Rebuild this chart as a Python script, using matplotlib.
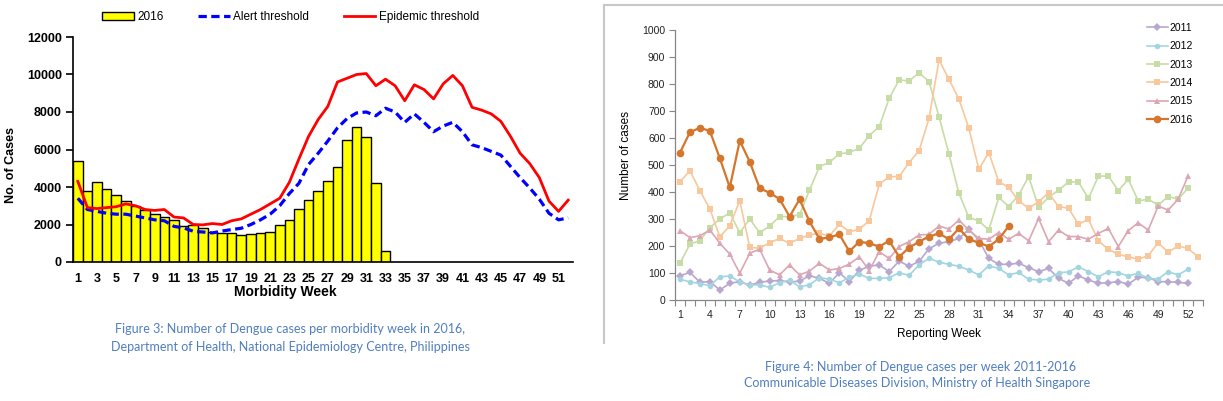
"""
Dengue weekly cases: Philippines 2016 vs thresholds, Singapore 2011-2016
"""

import numpy as np
import matplotlib
matplotlib.use('Agg')
import matplotlib.pyplot as plt
from matplotlib.lines import Line2D
from matplotlib.patches import Patch

# --- Philippines (figure 3) ---
ph_weeks = np.arange(1, 53)
ph_cases_2016 = [5400, 3800, 4250, 3900, 3550, 3250, 3000, 2750, 2550, 2400,
                 2250, 1900, 1950, 1800, 1600, 1550, 1550, 1450, 1500, 1550,
                 1600, 1950, 2250, 2850, 3300, 3800, 4300, 5050, 6500, 7200,
                 6650, 4200, 600]
ph_alert = [3400, 2800, 2700, 2600, 2550, 2550, 2450, 2350, 2250, 2200,
            1900, 1820, 1640, 1600, 1550, 1650, 1730, 1800, 2000, 2250,
            2550, 3000, 3650, 4200, 5200, 5800, 6450, 7150, 7650, 7950,
            8000, 7800, 8200, 8000, 7450, 7900, 7450, 6950, 7250, 7450,
            6950, 6250, 6100, 5900, 5700, 5100, 4500, 3950, 3350, 2600,
            2250, 2350]
ph_epidemic = [4300, 2900, 2850, 2900, 2950, 3100, 3000, 2800, 2750, 2800,
               2400, 2350, 2000, 1980, 2050, 2000, 2200, 2300, 2550, 2800,
               3100, 3400, 4250, 5500, 6700, 7600, 8300, 9600, 9800, 10000,
               10050, 9400, 9750, 9400, 8600, 9450, 9200, 8700, 9500, 9950,
               9400, 8250, 8100, 7900, 7500, 6700, 5800, 5250, 4500, 3250,
               2700, 3300]

# --- Singapore (figure 4) ---
sg_2011 = [90, 102, 66, 68, 37, 62, 68, 55, 66, 70, 72, 66, 70, 90, 80, 62,
           101, 68, 110, 125, 130, 105, 144, 125, 143, 190, 210, 216, 228, 262,
           222, 154, 132, 132, 136, 120, 105, 117, 80, 62, 89, 74, 62, 64, 68,
           59, 84, 83, 68, 68, 65, 62]
sg_2012 = [77, 67, 61, 53, 86, 89, 67, 56, 56, 47, 64, 74, 49, 56, 83, 77, 64,
           84, 96, 80, 80, 83, 101, 91, 130, 155, 140, 132, 125, 111, 93, 127,
           117, 93, 102, 77, 74, 77, 101, 104, 123, 105, 86, 105, 101, 89, 99,
           80, 78, 105, 93, 114]
sg_2013 = [136, 207, 220, 268, 300, 323, 249, 300, 249, 274, 309, 309, 315,
           407, 494, 510, 541, 547, 562, 609, 642, 747, 815, 811, 842, 809,
           679, 541, 395, 306, 293, 259, 380, 346, 389, 457, 343, 380, 407,
           437, 437, 376, 459, 459, 405, 447, 367, 373, 352, 383, 374, 414]
sg_2014 = [438, 479, 405, 337, 234, 275, 368, 195, 192, 212, 228, 210, 228,
           241, 247, 237, 281, 253, 262, 294, 428, 457, 457, 509, 553, 673,
           889, 817, 744, 636, 484, 546, 438, 417, 367, 340, 364, 397, 346,
           340, 280, 299, 219, 188, 169, 160, 151, 164, 212, 177, 200, 191, 160]
sg_2015 = [257, 231, 238, 259, 210, 170, 99, 173, 188, 111, 93, 130, 93, 107,
           136, 111, 117, 133, 160, 109, 179, 154, 198, 216, 241, 243, 274,
           263, 296, 259, 228, 225, 250, 225, 247, 219, 302, 216, 259, 235,
           235, 225, 247, 265, 198, 257, 286, 259, 348, 333, 373, 459]
sg_2016 = [546, 621, 638, 626, 525, 417, 590, 512, 414, 397, 374, 309, 373,
           291, 226, 232, 243, 180, 216, 210, 198, 219, 160, 194, 216, 235,
           247, 225, 265, 225, 212, 198, 225, 274]

sg_years = ['2011', '2012', '2013', '2014', '2015', '2016']
sg_series = [sg_2011, sg_2012, sg_2013, sg_2014, sg_2015, sg_2016]

W, H = 1223, 401
fig = plt.figure(figsize=(W / 100, H / 100), dpi=100)
plt.rcParams['font.family'] = ['Liberation Sans', 'DejaVu Sans']


def fx(px):
    return px / W


def fy(py):
    return 1 - py / H


# ================= left panel =================
ax1 = fig.add_axes([fx(73), fy(262), fx(500), 225 / H])
ax1.bar(np.arange(1, len(ph_cases_2016) + 1), ph_cases_2016, width=1.0,
        color='#FFFF00', edgecolor='black', linewidth=1.0, zorder=2)
ax1.plot(ph_weeks, ph_alert, color='#0000FF', lw=2.3, dashes=(2.6, 1.4), zorder=3)
ax1.plot(ph_weeks, ph_epidemic, color='#FF0000', lw=2.0, zorder=4)
ax1.set_xlim(0.5, 52.5)
ax1.set_ylim(0, 12000)
ax1.set_yticks(np.arange(0, 12001, 2000))
ax1.set_xticks(np.arange(1, 53, 2))
for s in ['top', 'right']:
    ax1.spines[s].set_visible(False)
ax1.spines['left'].set_linewidth(1.2)
ax1.spines['bottom'].set_linewidth(1.2)
ax1.tick_params(axis='y', length=5, width=1.2, labelsize=9, pad=3)
ax1.tick_params(axis='x', length=0, labelsize=9, pad=8)
for t in ax1.get_xticklabels() + ax1.get_yticklabels():
    t.set_fontweight('bold')
fig.text(fx(285), fy(292), 'Morbidity Week', ha='center', va='center',
         fontsize=10, fontweight='bold')
fig.text(fx(11), fy(165), 'No. of Cases', ha='center', va='center',
         rotation=90, fontsize=9, fontweight='bold')

handles = [Patch(facecolor='#FFFF00', edgecolor='black', linewidth=1.0),
           Line2D([], [], color='#0000FF', lw=2.3, dashes=(2.6, 1.4)),
           Line2D([], [], color='#FF0000', lw=2.0)]
fig.legend(handles, ['2016', 'Alert threshold', 'Epidemic threshold'],
           loc='center left', bbox_to_anchor=(fx(102), fy(17)), ncol=3,
           frameon=False, fontsize=8.5, handlelength=2.7, handleheight=0.7,
           handletextpad=0.3, columnspacing=2.9, borderaxespad=0, borderpad=0)

cap_color = '#4F7EC0'
fig.text(fx(290), fy(329), 'Figure 3: Number of Dengue cases per morbidity week in 2016,',
         ha='center', va='center', fontsize=9.0, color=cap_color, family='Lato')
fig.text(fx(290), fy(347), 'Department of Health, National Epidemiology Centre, Philippines',
         ha='center', va='center', fontsize=9.0, color=cap_color, family='Lato')

# divider frame
fig.add_artist(Line2D([fx(604), fx(604)], [fy(5), fy(343)], color='#C8C8C8', lw=1.5))
fig.add_artist(Line2D([fx(604), 1.0], [fy(5), fy(5)], color='#C8C8C8', lw=1.5))

# ================= right panel =================
ax2 = fig.add_axes([fx(675), fy(300), fx(528), 270 / H])
colors = ['#B8A8D0', '#A3D5E1', '#C8DCA6', '#F9C79C', '#DCA7B4', '#D4762C']
markers = ['D', 'o', 's', 's', '^', 'o']
msizes = [3.6, 4.0, 4.0, 4.0, 4.2, 5.5]
lws = [1.2, 1.2, 1.2, 1.2, 1.2, 1.6]
for yr, vals, c, m, ms, lw in zip(sg_years, sg_series, colors, markers, msizes, lws):
    wk = np.arange(1, len(vals) + 1)
    ax2.plot(wk, vals, color=c, marker=m, markersize=ms, lw=lw,
             markeredgewidth=0, label=yr)
ax2.set_xlim(0.5, 53.5)
ax2.set_ylim(0, 1000)
ax2.set_yticks(np.arange(0, 1001, 100))
ax2.set_xticks(np.arange(1, 53, 3))
ax2.set_xticks(np.arange(0.5, 54, 1), minor=True)
for s in ['top', 'right']:
    ax2.spines[s].set_visible(False)
for s in ['left', 'bottom']:
    ax2.spines[s].set_color('#868686')
    ax2.spines[s].set_linewidth(0.9)
ax2.tick_params(axis='y', length=4, width=0.8, color='#868686', labelsize=7.5,
                labelcolor='#222222', pad=3)
ax2.tick_params(axis='x', which='major', length=0, labelsize=7.5,
                labelcolor='#222222', pad=7)
ax2.tick_params(axis='x', which='minor', length=4, width=0.8, color='#868686')
ax2.set_xlabel('Reporting Week', fontsize=8.5, labelpad=6)
fig.text(fx(626), fy(155), 'Number of cases', ha='center', va='center',
         rotation=90, fontsize=8.5)
fig.legend(loc='upper left', bbox_to_anchor=(fx(1147), fy(23)), frameon=False,
           fontsize=7.5, handlelength=2.0, handletextpad=0.15,
           labelspacing=0.8, borderaxespad=0, borderpad=0)

fig.text(fx(921), fy(367), 'Figure 4: Number of Dengue cases per week 2011-2016',
         ha='center', va='center', fontsize=9.0, color=cap_color, family='Lato')
fig.text(fx(917), fy(383), 'Communicable Diseases Division, Ministry of Health Singapore',
         ha='center', va='center', fontsize=9.0, color=cap_color, family='Lato')

fig.savefig('out.png', dpi=100)
